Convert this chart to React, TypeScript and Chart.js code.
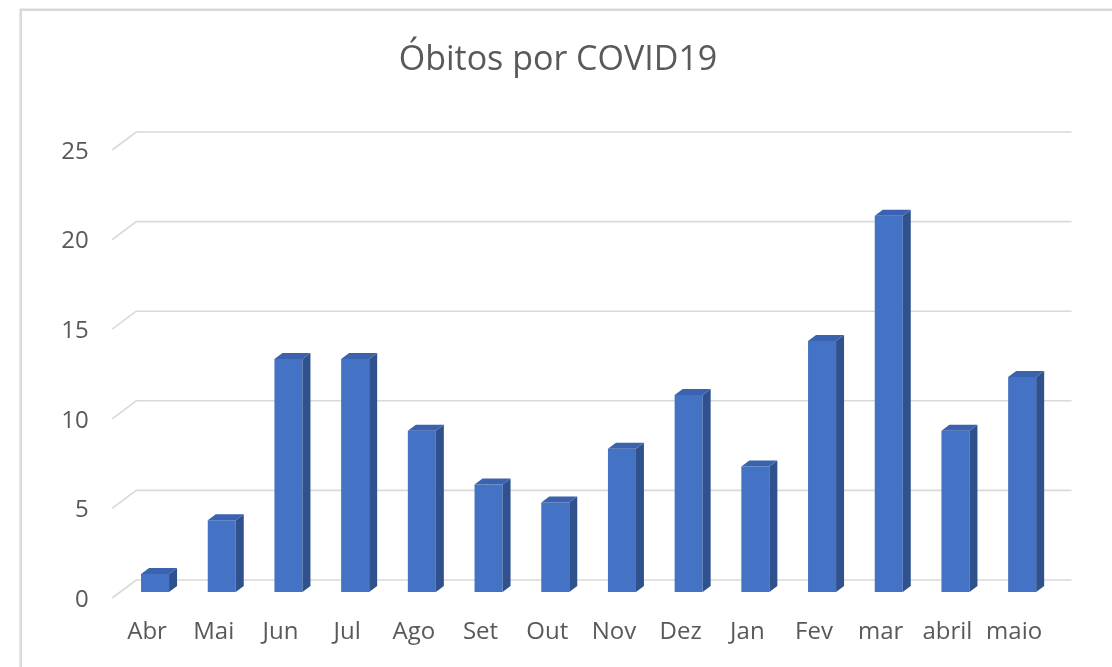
import React, { useEffect, useRef } from "react";
import { Chart, registerables } from "chart.js";

Chart.register(...registerables);

const categories = ["Abr", "Mai", "Jun", "Jul", "Ago", "Set", "Out", "Nov", "Dez", "Jan", "Fev", "mar", "abril", "maio"];
const obitos = [1, 4, 13, 13, 9, 6, 5, 8, 11, 7, 14, 21, 9, 12];
const yTicks = [0, 5, 10, 15, 20, 25];
const chartTitle = "Óbitos por COVID19";

const FONT = "'Open Sans', 'Noto Sans', sans-serif";
const TEXT = "#595959";
const GRID = "#d9d9d9";
const FRONT = "#4472C4";
const SIDE = "#2F528F";
const TOP = "#3A62AE";

// 3D offsets
const BAR_SHIFT_X = 8;
const BAR_SHIFT_Y = -6;
const BAR_DX = 8;
const BAR_DY = 6;
const BACK_DX = 24;
const BACK_DY = 18;

const threeD = {
  id: "threeD",
  beforeDraw(chart: any) {
    const ctx = chart.ctx;
    ctx.save();
    ctx.fillStyle = "#ffffff";
    ctx.fillRect(0, 0, chart.width, chart.height);
    ctx.strokeStyle = GRID;
    ctx.lineWidth = 2.5;
    ctx.beginPath();
    ctx.moveTo(20.7, chart.height + 2);
    ctx.lineTo(20.7, 9.7);
    ctx.lineTo(chart.width + 2, 9.7);
    ctx.stroke();
    ctx.restore();
  },
  beforeDatasetsDraw(chart: any) {
    const ctx = chart.ctx;
    const ys = chart.scales.y;
    const { left, right } = chart.chartArea;
    ctx.save();
    ctx.strokeStyle = GRID;
    ctx.lineWidth = 1.6;
    yTicks.forEach((v) => {
      const y = ys.getPixelForValue(v);
      ctx.beginPath();
      ctx.moveTo(left - 1.5, y);
      ctx.lineTo(left - 1.5 + BACK_DX, y - BACK_DY);
      ctx.lineTo(right + BACK_DX, y - BACK_DY);
      ctx.stroke();
    });
    ctx.restore();
    ctx.save();
    ctx.translate(BAR_SHIFT_X, BAR_SHIFT_Y);
  },
  afterDatasetsDraw(chart: any) {
    const ctx = chart.ctx;
    const meta = chart.getDatasetMeta(0);
    meta.data.forEach((bar: any) => {
      const w = bar.width;
      const L = bar.x - w / 2;
      const R = bar.x + w / 2;
      const T = Math.min(bar.y, bar.base);
      const B = Math.max(bar.y, bar.base);
      ctx.fillStyle = SIDE;
      ctx.beginPath();
      ctx.moveTo(R, T);
      ctx.lineTo(R + BAR_DX, T - BAR_DY);
      ctx.lineTo(R + BAR_DX, B - BAR_DY);
      ctx.lineTo(R, B);
      ctx.closePath();
      ctx.fill();
      ctx.fillStyle = TOP;
      ctx.beginPath();
      ctx.moveTo(L, T);
      ctx.lineTo(L + BAR_DX, T - BAR_DY);
      ctx.lineTo(R + BAR_DX, T - BAR_DY);
      ctx.lineTo(R, T);
      ctx.closePath();
      ctx.fill();
    });
    ctx.restore();
  },
};

export default function App() {
  const ref = useRef<HTMLCanvasElement | null>(null);
  useEffect(() => {
    if (!ref.current) return;
    const chart = new Chart(ref.current, {
      type: "bar",
      data: {
        labels: categories,
        datasets: [
          {
            label: "Óbitos",
            data: obitos,
            backgroundColor: FRONT,
            borderWidth: 0,
            barPercentage: 0.42,
            categoryPercentage: 1,
          },
        ],
      },
      options: {
        animation: false,
        responsive: false,
        layout: { padding: { left: 4, right: 0, top: 0, bottom: 0 } },
        plugins: {
          legend: { display: false },
          tooltip: { enabled: false },
          title: {
            display: true,
            text: chartTitle,
            color: TEXT,
            font: { family: FONT, size: 34, weight: "normal", lineHeight: 1.2 },
            padding: { top: 39.6, bottom: 69.6 },
          },
        },
        scales: {
          x: {
            grid: { display: false, drawTicks: false },
            border: { display: false },
            ticks: { color: TEXT, font: { family: FONT, size: 24 }, padding: 20, maxRotation: 0 },
            afterFit: (s: any) => {
              s.height = 69;
            },
          },
          y: {
            min: 0,
            max: 25,
            grid: { display: false, drawTicks: false },
            border: { display: false },
            ticks: { stepSize: 5, color: TEXT, font: { family: FONT, size: 24 }, padding: 25, labelOffset: 2 },
            afterFit: (s: any) => {
              s.width = 113.7 - 4;
            },
          },
          yRight: {
            type: "linear",
            position: "right",
            grid: { display: false, drawTicks: false },
            border: { display: false },
            ticks: { display: false },
            afterFit: (s: any) => {
              s.width = 64.5;
            },
          },
        },
      },
      plugins: [threeD],
    });
    return () => chart.destroy();
  }, []);
  return (
    <div style={{ position: "fixed", left: 0, top: 0, width: 1112, height: 667, background: "#fff" }}>
      <canvas ref={ref} width={1112} height={667} style={{ display: "block" }} />
    </div>
  );
}
